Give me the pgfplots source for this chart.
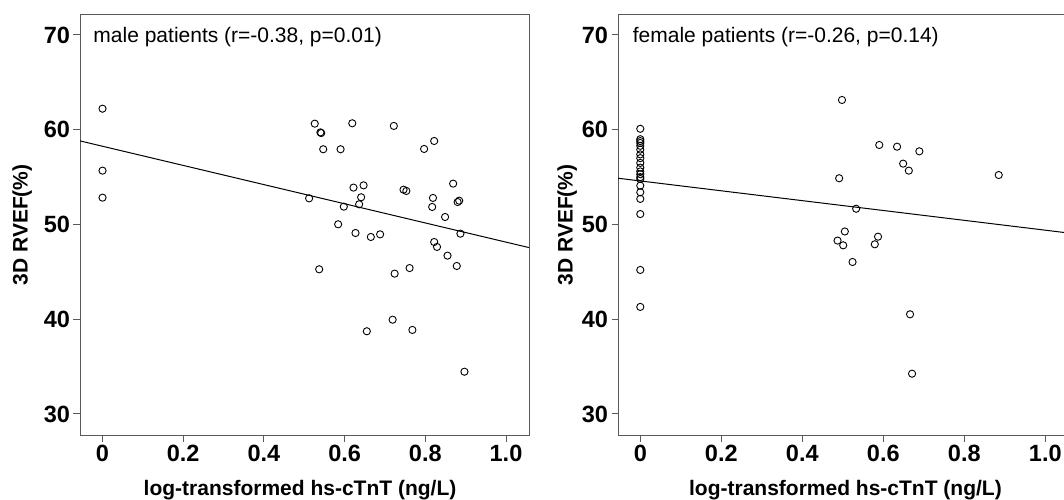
\documentclass[border=0pt]{standalone}
\usepackage{fontspec}
\setmainfont{Liberation Sans}
\usepackage{pgfplots}
\pgfplotsset{compat=1.18}

\pgfplotsset{
  rvef/.style={
    scale only axis,
    height=420.3pt,
    xmin=-0.0558, xmax=1.057, ymin=27.78, ymax=72.14,
    xtick={0,0.2,0.4,0.6,0.8,1.0},
    xticklabels={0,0.2,0.4,0.6,0.8,1.0},
    ytick={30,40,50,60,70},
    tick align=outside, tick pos=left,
    major tick length=6.5pt,
    axis line style={black!65, line width=1pt},
    every tick/.style={black!65, line width=1pt},
    /pgf/number format/assume math mode=true,
    tick label style={font=\fontsize{23.5}{23.5}\selectfont\bfseries},
    label style={font=\fontsize{21}{21}\selectfont\bfseries},
    xlabel={log-transformed hs-cTnT (ng/L)},
    ylabel={3D RVEF(\%)},
  },
  pts/.style={only marks, mark=o, mark size=3.6pt, mark options={black, line width=0.9pt}},
  fit/.style={black, line width=1pt, no marks},
}

\begin{document}
\begin{tikzpicture}
% male patients
\begin{axis}[rvef, at={(80pt,64pt)}, anchor=south west, width=449pt,
  ylabel style={at={(axis description cs:-0.129,0.5)}, anchor=center},
  xlabel style={at={(axis description cs:0.49,-0.145)}, anchor=base}]
\addplot[pts] coordinates {
  (0,62.22)(0,55.68)(0,52.83)
  (0.526,60.64)(0.619,60.68)(0.722,60.40)(0.540,59.72)(0.542,59.65)
  (0.547,57.94)(0.590,57.94)(0.797,57.97)(0.822,58.81)(0.869,54.31)
  (0.622,53.89)(0.647,54.13)(0.746,53.67)(0.753,53.54)(0.512,52.76)
  (0.641,52.87)(0.636,52.13)(0.598,51.88)(0.819,52.80)(0.817,51.85)
  (0.880,52.37)(0.884,52.51)(0.849,50.79)(0.584,50.02)(0.627,49.10)
  (0.665,48.68)(0.688,48.96)(0.887,49.03)(0.822,48.15)(0.829,47.63)
  (0.855,46.71)(0.878,45.62)(0.537,45.27)(0.724,44.81)(0.761,45.40)
  (0.719,39.95)(0.655,38.73)(0.768,38.87)(0.897,34.46)
};
\addplot[fit] coordinates {(-0.0558,58.82)(1.057,47.56)};
\node[anchor=base west, inner sep=0pt, font=\fontsize{21}{21}\selectfont]
  at (rel axis cs:0.0296,0.9334) {male patients (r=-0.38, p=0.01)};
\end{axis}

% female patients
\begin{axis}[rvef, at={(618pt,64pt)}, anchor=south west, width=450.4pt,
  xmin=-0.055,
  ylabel style={at={(axis description cs:-0.113,0.5)}, anchor=center},
  xlabel style={at={(axis description cs:0.505,-0.145)}, anchor=base}]
\addplot[pts] coordinates {
  (0,60.1)(0,59.0)(0,58.8)(0,58.6)(0,58.3)(0,57.9)(0,57.4)(0,57.0)
  (0,56.5)(0,56.0)(0,55.6)(0,55.3)(0,55.0)(0,54.8)(0,54.1)(0,53.4)
  (0,52.7)(0,51.1)(0,45.2)(0,41.3)
  (0.498,63.14)(0.491,54.88)(0.533,51.66)(0.505,49.26)(0.487,48.30)
  (0.501,47.80)(0.590,58.39)(0.634,58.21)(0.689,57.72)(0.649,56.42)
  (0.663,55.68)(0.885,55.22)(0.587,48.71)(0.579,47.91)(0.524,46.04)
  (0.666,40.52)(0.671,34.25)
};
\addplot[fit] coordinates {(-0.055,54.88)(1.057,49.10)};
\node[anchor=base west, inner sep=0pt, font=\fontsize{21}{21}\selectfont]
  at (rel axis cs:0.0326,0.9334) {female patients (r=-0.26, p=0.14)};
\end{axis}

\pgfresetboundingbox
\path[use as bounding box] (0,0) rectangle (1064pt,499pt);
\end{tikzpicture}
\end{document}
